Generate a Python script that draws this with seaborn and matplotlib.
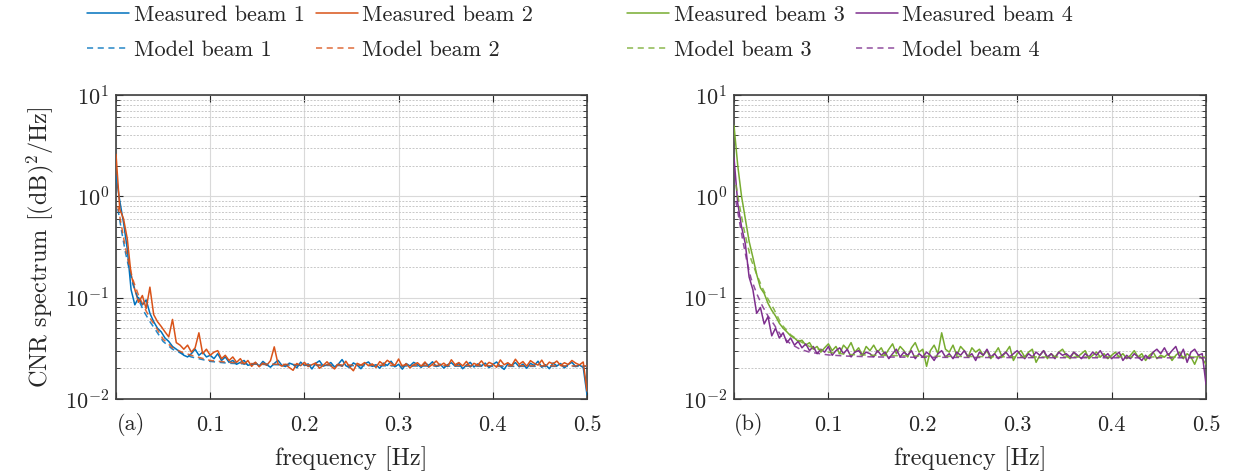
import numpy as np
import pandas as pd
import seaborn as sns
import matplotlib
matplotlib.use("Agg")
import matplotlib.pyplot as plt
from matplotlib.lines import Line2D
from matplotlib.ticker import LogLocator, NullFormatter

# ---------------- data ----------------
df_step = 0.004  # frequency resolution of measured spectra

meas_beam1 = [1.6, 0.9, 0.55, 0.3, 0.12, 0.085, 0.1, 0.085, 0.095, 0.07,
              0.058, 0.05, 0.046, 0.04, 0.037, 0.033, 0.031, 0.029, 0.027, 0.026,
              0.028, 0.031, 0.027, 0.029, 0.026, 0.027, 0.025, 0.028, 0.024, 0.026,
              0.023, 0.024, 0.022, 0.023, 0.024, 0.0215, 0.022,
              0.0228, 0.0212, 0.0235, 0.0218, 0.0206, 0.0224, 0.0241, 0.0215, 0.0209, 0.0226,
              0.0219, 0.0203, 0.0231, 0.0214, 0.0222, 0.0198, 0.0225, 0.0238, 0.0211, 0.0217,
              0.0229, 0.0207, 0.0221, 0.0245, 0.0213, 0.0204, 0.0227, 0.0216, 0.0199, 0.0223,
              0.0232, 0.0210, 0.0218, 0.0201, 0.0226, 0.0214, 0.0236, 0.0208, 0.0220, 0.0197,
              0.0224, 0.0212, 0.0230, 0.0219, 0.0205, 0.0227, 0.0215, 0.0233, 0.0209, 0.0221,
              0.0202, 0.0218, 0.0228, 0.0211, 0.0224, 0.0199, 0.0216, 0.0230, 0.0207, 0.0222,
              0.0213, 0.0226, 0.0204, 0.0219, 0.0232, 0.0210, 0.0196, 0.0223, 0.0215, 0.0229,
              0.0208, 0.0221, 0.0201, 0.0225, 0.0214, 0.0236, 0.0206, 0.0218, 0.0199, 0.0227,
              0.0212, 0.0224, 0.0203, 0.0219, 0.0230, 0.0209, 0.0216, 0.0205,
              0.011]

meas_beam2 = [2.6, 0.75, 0.6, 0.38, 0.17, 0.12, 0.09, 0.105, 0.078, 0.127,
              0.068, 0.058, 0.052, 0.046, 0.041, 0.061, 0.036, 0.034, 0.031, 0.034,
              0.029, 0.032, 0.045, 0.028, 0.031, 0.027, 0.029, 0.030, 0.025, 0.027,
              0.024, 0.026, 0.023, 0.025, 0.022, 0.024, 0.021,
              0.0231, 0.0208, 0.0226, 0.0215, 0.0239, 0.0327, 0.0222, 0.0211, 0.0219, 0.0204,
              0.0192, 0.0224, 0.0213, 0.0230, 0.0209, 0.0218, 0.0227, 0.0201, 0.0215, 0.0233,
              0.0212, 0.0198, 0.0221, 0.0210, 0.0236, 0.0207, 0.0190, 0.0225, 0.0216, 0.0229,
              0.0213, 0.0222, 0.0205, 0.0234, 0.0219, 0.0241, 0.0226, 0.0214, 0.0248, 0.0208,
              0.0223, 0.0203, 0.0217, 0.0228, 0.0211, 0.0232, 0.0206, 0.0220, 0.0237, 0.0214,
              0.0226, 0.0209, 0.0244, 0.0218, 0.0229, 0.0212, 0.0235, 0.0207, 0.0225, 0.0216,
              0.0238, 0.0211, 0.0230, 0.0221, 0.0206, 0.0243, 0.0218, 0.0228, 0.0213, 0.0247,
              0.0220, 0.0234, 0.0211, 0.0239, 0.0225, 0.0216, 0.0242, 0.0209, 0.0231, 0.0222,
              0.0237, 0.0214, 0.0228, 0.0219, 0.0240, 0.0226, 0.0217, 0.0232,
              0.012]

meas_beam3 = [5.0, 2.0, 1.0, 0.6, 0.36, 0.25, 0.17, 0.125, 0.11, 0.088,
              0.075, 0.066, 0.056, 0.05, 0.046, 0.042, 0.04, 0.037, 0.038, 0.034,
              0.036, 0.031, 0.033, 0.029, 0.032, 0.035, 0.030, 0.033, 0.028, 0.034,
              0.031, 0.036, 0.029, 0.032, 0.027, 0.033, 0.030,
              0.034, 0.029, 0.032, 0.027, 0.031, 0.035, 0.028, 0.033, 0.030, 0.026,
              0.032, 0.036, 0.029, 0.031, 0.021, 0.030, 0.034, 0.028, 0.045, 0.031,
              0.029, 0.034, 0.027, 0.033, 0.030, 0.026, 0.032, 0.029, 0.031, 0.027,
              0.030, 0.025, 0.028, 0.032, 0.026, 0.029, 0.033, 0.024, 0.028, 0.030,
              0.026, 0.029, 0.031, 0.023, 0.027, 0.030, 0.025, 0.028, 0.026, 0.029,
              0.031, 0.027, 0.025, 0.029, 0.026, 0.028, 0.030, 0.025, 0.027, 0.029,
              0.026, 0.028, 0.025, 0.027, 0.029, 0.026, 0.028, 0.025, 0.027, 0.030,
              0.026, 0.028, 0.024, 0.027, 0.029, 0.025, 0.027, 0.026, 0.028, 0.024,
              0.027, 0.029, 0.025, 0.028, 0.026, 0.022, 0.027, 0.025,
              0.022]

meas_beam4 = [2.4, 0.85, 0.5, 0.34, 0.16, 0.12, 0.07, 0.08, 0.055, 0.065,
              0.042, 0.05, 0.04, 0.045, 0.036, 0.04, 0.034, 0.037, 0.032, 0.035,
              0.030, 0.033, 0.028, 0.031, 0.029, 0.033, 0.027, 0.030, 0.032, 0.028,
              0.031, 0.026, 0.029, 0.030, 0.027, 0.029, 0.028,
              0.026, 0.030, 0.027, 0.029, 0.025, 0.028, 0.031, 0.026, 0.029, 0.027,
              0.030, 0.025, 0.028, 0.026, 0.029, 0.027, 0.024, 0.028, 0.030, 0.026,
              0.028, 0.025, 0.029, 0.027, 0.030, 0.026, 0.028, 0.024, 0.029, 0.027,
              0.031, 0.026, 0.028, 0.025, 0.027, 0.029, 0.026, 0.028, 0.030, 0.027,
              0.025, 0.028, 0.026, 0.029, 0.027, 0.030, 0.026, 0.028, 0.025, 0.029,
              0.027, 0.028, 0.026, 0.029, 0.027, 0.025, 0.028, 0.026, 0.029, 0.027,
              0.030, 0.026, 0.028, 0.025, 0.027, 0.029, 0.024, 0.027, 0.025, 0.028,
              0.026, 0.024, 0.027, 0.025, 0.029, 0.031, 0.028, 0.032, 0.027, 0.030,
              0.033, 0.026, 0.031, 0.023, 0.029, 0.031, 0.027, 0.028,
              0.014]

model_freq = [0.002, 0.006, 0.010, 0.014, 0.018, 0.024, 0.030, 0.036, 0.042, 0.050,
              0.060, 0.070, 0.080, 0.100, 0.120, 0.150, 0.200, 0.300, 0.400, 0.500]
model_beam1 = [0.75, 0.45, 0.28, 0.19, 0.135, 0.095, 0.072, 0.058, 0.048, 0.037,
               0.031, 0.028, 0.026, 0.0235, 0.0225, 0.022, 0.0215, 0.0212, 0.021, 0.021]
model_beam2 = [0.8, 0.5, 0.31, 0.21, 0.15, 0.105, 0.08, 0.063, 0.052, 0.039,
               0.032, 0.029, 0.027, 0.024, 0.023, 0.0222, 0.0218, 0.0215, 0.0213, 0.0212]
model_beam3 = [1.3, 0.8, 0.5, 0.34, 0.24, 0.17, 0.125, 0.097, 0.078, 0.055,
               0.043, 0.037, 0.033, 0.029, 0.0275, 0.027, 0.0265, 0.026, 0.026, 0.026]
model_beam4 = [0.9, 0.55, 0.34, 0.22, 0.155, 0.11, 0.083, 0.066, 0.055, 0.042,
               0.035, 0.031, 0.029, 0.0272, 0.0265, 0.026, 0.0258, 0.0256, 0.0255, 0.0255]

labels_meas = ["Measured beam 1", "Measured beam 2", "Measured beam 3", "Measured beam 4"]
labels_model = ["Model beam 1", "Model beam 2", "Model beam 3", "Model beam 4"]
x_ticks = [0.0, 0.1, 0.2, 0.3, 0.4, 0.5]
x_ticklabels = ["", "0.1", "0.2", "0.3", "0.4", "0.5"]
panel_tags = ["(a)", "(b)"]

colors = ["#0072BD", "#D95319", "#77AC30", "#7E2F8E"]

# ---------------- style ----------------
sns.set_theme(style="white")
plt.rcParams["font.family"] = ["cmr10", "DejaVu Serif"]
plt.rcParams["mathtext.fontset"] = "cm"
plt.rcParams["axes.formatter.use_mathtext"] = True

fig = plt.figure(figsize=(12.33, 4.73), dpi=100)
W, H = 1233, 473
ax1 = fig.add_axes([116 / W, (H - 399) / H, (587 - 116) / W, (399 - 95) / H])
ax2 = fig.add_axes([734 / W, (H - 399) / H, (1206 - 734) / W, (399 - 95) / H])

meas = [meas_beam1, meas_beam2, meas_beam3, meas_beam4]
models = [model_beam1, model_beam2, model_beam3, model_beam4]
axes_for = [ax1, ax1, ax2, ax2]
dash = (0, (4, 3))

for i in range(4):
    ax = axes_for[i]
    f = np.arange(len(meas[i])) * df_step
    d = pd.DataFrame({"f": f, "v": meas[i]})
    sns.lineplot(data=d, x="f", y="v", ax=ax, color=colors[i], lw=1.1,
                 errorbar=None, estimator=None, sort=False, zorder=3)
for i in range(4):
    ax = axes_for[i]
    d = pd.DataFrame({"f": model_freq, "v": models[i]})
    sns.lineplot(data=d, x="f", y="v", ax=ax, color=colors[i], lw=1.1,
                 linestyle=dash, errorbar=None, estimator=None,
                 sort=False, alpha=0.85, zorder=4)

txt = "#262626"
for k, ax in enumerate([ax1, ax2]):
    ax.set_yscale("log")
    ax.set_ylim(1e-2, 1e1)
    ax.set_xlim(0, 0.5)
    ax.set_xticks(x_ticks)
    ax.set_xticklabels(x_ticklabels)
    ax.yaxis.set_major_locator(LogLocator(base=10, numticks=10))
    ax.yaxis.set_minor_locator(LogLocator(base=10, subs=np.arange(2, 10), numticks=20))
    ax.yaxis.set_minor_formatter(NullFormatter())
    ax.grid(True, which="major", color="#d9d9d9", lw=0.8, ls="-", zorder=0)
    ax.grid(True, which="minor", axis="y", color="#c8c8c8", lw=0.7, ls=(0, (2, 1.5)), zorder=0)
    ax.set_axisbelow(True)
    ax.tick_params(which="both", direction="in", top=True, right=True,
                   bottom=True, left=True, colors=txt, labelsize=16,
                   labelcolor=txt)
    ax.tick_params(which="major", length=5, width=0.8)
    ax.tick_params(which="minor", length=3, width=0.6)
    ax.tick_params(axis="x", pad=12)
    ax.tick_params(axis="y", pad=5)
    for s in ax.spines.values():
        s.set_color("#404040")
        s.set_linewidth(1.2)
    ax.set_xlabel("frequency [Hz]", fontsize=17.5, color=txt, labelpad=8)
    ax.set_ylabel("")
    ax.text(0.032, -0.045, panel_tags[k], transform=ax.transAxes, ha="center",
            va="top", fontsize=16, color=txt)

ax1.set_ylabel("CNR spectrum [(dB)$^2$/Hz]", fontsize=17.5, color=txt, labelpad=6)

# two legends (one per panel): row 1 measured, row 2 model
for p, x0 in enumerate([87, 627]):
    handles, labs = [], []
    for i in (2 * p, 2 * p + 1):
        handles.append(Line2D([], [], color=colors[i], lw=1.1))
        labs.append(labels_meas[i])
        handles.append(Line2D([], [], color=colors[i], lw=1.1, ls=dash, alpha=0.85))
        labs.append(labels_model[i])
    fig.legend(handles, labs, ncol=2, loc="upper left",
               bbox_to_anchor=(x0 / W, 1 - 5 / H), borderpad=0, borderaxespad=0,
               frameon=False, fontsize=16, handlelength=1.9, handletextpad=0.2,
               columnspacing=0.5, labelspacing=0.72, labelcolor=txt)

fig.savefig("out.png", dpi=100)
